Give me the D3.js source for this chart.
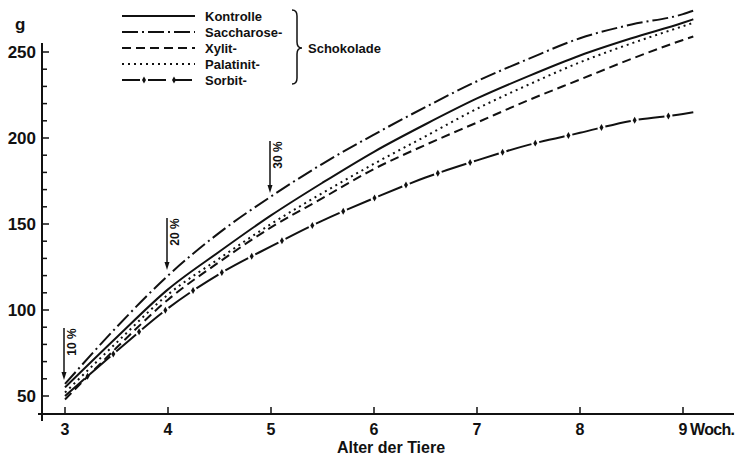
<!DOCTYPE html>
<html>
<head>
<meta charset="utf-8">
<script src="https://cdn.jsdelivr.net/npm/d3@7"></script>
<style>
  body { margin: 0; background: #fff; }
  svg { font-family: "Liberation Sans", Arial, sans-serif; font-weight: bold; fill: #111; }
</style>
</head>
<body>
<svg></svg>
<script>
  // weeks of age
  var weeks = [3, 3.5, 4, 4.5, 5, 5.5, 6, 6.5, 7, 7.5, 8, 8.5, 9, 9.1];
  // body weight in g
  var kontrolle   = [55, 84, 112, 134, 155, 174, 192, 208, 223, 236, 248, 258, 267, 269];
  var saccharose  = [57, 90, 120, 145, 166, 185, 202, 218, 233, 246, 258, 266, 272, 274];
  var xylit       = [48, 78, 106, 128, 148, 165, 182, 196, 209, 222, 234, 246, 257, 259];
  var palatinit   = [52, 81, 109, 130, 150, 168, 185, 201, 217, 231, 244, 255, 265, 267];
  var sorbit      = [50, 76, 101, 121, 137, 152, 165, 177, 187, 196, 203, 210, 214, 215];

  var xTicks = [3, 4, 5, 6, 7, 8, 9];
  var yTicks = [50, 100, 150, 200, 250];
  var arrowWeeks = [3, 4, 5];
  var arrowLabels = ["10 %", "20 %", "30 %"];
  var legendNames = ["Kontrolle", "Saccharose-", "Xylit-", "Palatinit-", "Sorbit-"];

  var series = [
    { name: legendNames[0], values: kontrolle,  dash: null },
    { name: legendNames[1], values: saccharose, dash: "16,4,2,4" },
    { name: legendNames[2], values: xylit,      dash: "9,5" },
    { name: legendNames[3], values: palatinit,  dash: "2,4" },
    { name: legendNames[4], values: sorbit,     dash: "26,8", marks: true }
  ];

  var svg = d3.select("svg").attr("width", 739).attr("height", 456);

  var x = d3.scaleLinear().domain([3, 9]).range([65, 683]);
  var y = d3.scaleLinear().domain([50, 250]).range([396, 52]);

  // y axis
  svg.append("line").attr("x1", 42).attr("x2", 42).attr("y1", 43).attr("y2", 421)
    .attr("stroke", "#111").attr("stroke-width", 2);
  var minor = d3.range(50, 251, 10);
  svg.selectAll(".ytick").data(minor).enter().append("line")
    .attr("x1", 42).attr("x2", function(d) { return d % 50 === 0 ? 49 : 47; })
    .attr("y1", function(d) { return y(d); }).attr("y2", function(d) { return y(d); })
    .attr("stroke", "#111").attr("stroke-width", 1.5);
  svg.selectAll(".ylab").data(yTicks).enter().append("text")
    .attr("x", 36).attr("y", function(d) { return y(d) + 6; })
    .attr("text-anchor", "end").attr("font-size", 17)
    .text(function(d) { return d; });
  svg.append("text").attr("x", 15).attr("y", 30).attr("font-size", 17).text("g");

  // x axis
  svg.append("line").attr("x1", 38).attr("x2", 734).attr("y1", 414).attr("y2", 414)
    .attr("stroke", "#111").attr("stroke-width", 2);
  svg.selectAll(".xtick").data(xTicks).enter().append("line")
    .attr("x1", function(d) { return x(d); }).attr("x2", function(d) { return x(d); })
    .attr("y1", 414).attr("y2", 407)
    .attr("stroke", "#111").attr("stroke-width", 1.5);
  svg.selectAll(".xlab").data(xTicks).enter().append("text")
    .attr("x", function(d) { return x(d); }).attr("y", 435)
    .attr("text-anchor", "middle").attr("font-size", 16)
    .text(function(d) { return d; });
  svg.append("text").attr("x", x(9) + 7).attr("y", 435).attr("font-size", 16)
    .attr("textLength", 45).text("Woch.");
  svg.append("text").attr("x", 391).attr("y", 453).attr("text-anchor", "middle")
    .attr("font-size", 16).text("Alter der Tiere");

  // curves
  var line = d3.line()
    .x(function(d, i) { return x(weeks[i]); })
    .y(function(d) { return y(d); })
    .curve(d3.curveMonotoneX);

  series.forEach(function(s) {
    var p = svg.append("path").attr("d", line(s.values))
      .attr("fill", "none").attr("stroke", "#111").attr("stroke-width", 2)
      .attr("stroke-dasharray", s.dash);
    if (s.marks) {
      var node = p.node(), len = node.getTotalLength();
      for (var l = 30; l < len; l += 34) {
        var pt = node.getPointAtLength(l);
        svg.append("path").attr("d", d3.symbol(d3.symbolDiamond, 14)())
          .attr("transform", "translate(" + pt.x + "," + pt.y + ")")
          .attr("fill", "#111");
      }
    }
  });

  // arrows with percentages
  var arrowTop = [328, 218, 141];
  arrowWeeks.forEach(function(w, i) {
    var ax = x(w) - 1, tip = arrowTop[i] + 52;
    svg.append("line").attr("x1", ax).attr("x2", ax).attr("y1", arrowTop[i]).attr("y2", tip - 6)
      .attr("stroke", "#111").attr("stroke-width", 1.5);
    svg.append("path").attr("d", "M" + (ax - 2.5) + "," + (tip - 8) + "L" + ax + "," + tip + "L" + (ax + 2.5) + "," + (tip - 8) + "Z")
      .attr("fill", "#111");
    svg.append("text").attr("font-size", 12)
      .attr("transform", "translate(" + (ax + 12) + "," + (arrowTop[i] + 14) + ") rotate(-90)")
      .attr("text-anchor", "middle").text(arrowLabels[i]);
  });

  // legend
  var ly = d3.scalePoint().domain(legendNames).range([16, 80]);
  series.forEach(function(s) {
    var yy = ly(s.name);
    svg.append("line").attr("x1", 122).attr("x2", 195).attr("y1", yy).attr("y2", yy)
      .attr("stroke", "#111").attr("stroke-width", 2).attr("stroke-dasharray", s.marks ? "18,8" : s.dash);
    if (s.marks) {
      [144, 174].forEach(function(mx) {
        svg.append("path").attr("d", d3.symbol(d3.symbolDiamond, 14)())
          .attr("transform", "translate(" + mx + "," + yy + ")").attr("fill", "#111");
      });
    }
    svg.append("text").attr("x", 205).attr("y", yy + 5).attr("font-size", 13).text(s.name);
  });
  // brace
  svg.append("path")
    .attr("d", "M292,10 Q297,10 297,16 L297,42 Q297,48 302,48 Q297,48 297,54 L297,78 Q297,84 292,84")
    .attr("fill", "none").attr("stroke", "#111").attr("stroke-width", 1.5);
  svg.append("text").attr("x", 308).attr("y", 53).attr("font-size", 13).text("Schokolade");
</script>
</body>
</html>
